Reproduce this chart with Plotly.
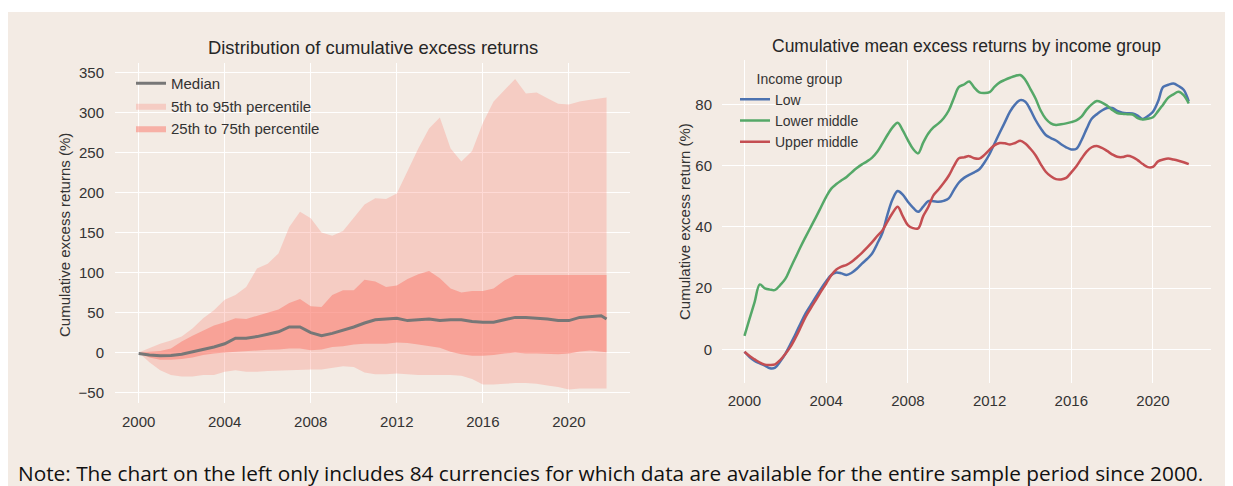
import numpy as np
import plotly.graph_objects as go

# The page adds an 8px body margin, so the figure is sized/positioned to land on the 1233x486 frame.
OFF = 8
WF, HF = 1233 - OFF, 486 - OFF


def px(x):
    return (x - OFF) / WF


def py(y):
    return 1 - (y - OFF) / HF


# ---------------- Left chart data (half-year steps) ----------------
years_left = [2000.0, 2000.5, 2001.0, 2001.5, 2002.0, 2002.5, 2003.0, 2003.5, 2004.0, 2004.5,
              2005.0, 2005.5, 2006.0, 2006.5, 2007.0, 2007.5, 2008.0, 2008.5, 2009.0, 2009.5,
              2010.0, 2010.5, 2011.0, 2011.5, 2012.0, 2012.5, 2013.0, 2013.5, 2014.0, 2014.5,
              2015.0, 2015.5, 2016.0, 2016.5, 2017.0, 2017.5, 2018.0, 2018.5, 2019.0, 2019.5,
              2020.0, 2020.5, 2021.0, 2021.5, 2021.75]
p95 = [0, 6, 11, 15, 20, 30, 43, 53, 66, 72,
       82, 105, 111, 124, 157, 176, 168, 150, 146, 152,
       168, 185, 193, 192, 199, 228, 255, 280, 294, 255,
       239, 252, 287, 314, 328, 342, 324, 325, 318, 311,
       310, 314, 316, 318, 319]
p5 = [0, -12, -22, -28, -30, -30, -28, -28, -24, -22,
      -24, -24, -23, -22.5, -22, -21, -21, -21, -19, -17,
      -18, -25, -27, -27, -26, -27, -28, -28, -28, -28,
      -29, -33, -40, -40, -39, -38, -38, -39, -41, -43,
      -46, -45, -45, -45, -45]
p75 = [0, 1, 2, 5, 14, 21, 28, 34, 38, 43,
       42, 46, 50, 54, 62, 67, 58, 57, 72, 78,
       78, 91, 89, 82, 84, 92, 98, 102, 93, 80,
       75, 77, 77, 80, 90, 97, 97, 97, 97, 97,
       97, 97, 97, 97, 97]
p25 = [0, -6, -9, -9, -8, -6, -3, -1, 0, 1,
       2, 3, 3.5, 4, 5, 5, 3, 4, 7, 8,
       10, 11, 11, 11, 12.5, 12, 10, 8, 6, 1,
       -2, -4, -4, -3, -1, 0, -1, -1, -1.5, -2,
       -1, 1.5, 2.5, 1, 0.4]
median = [-1, -3, -4, -3.5, -2, 1, 4, 7, 11, 18,
          18, 20, 23, 26, 32, 32, 25, 21, 24, 28,
          32, 37, 41, 42, 43, 40, 41, 42, 40, 41,
          41, 39, 38, 38, 41, 44, 44, 43, 42, 40,
          40, 44, 45, 46, 42]

# ---------------- Right chart data (quarterly) ----------------
years_right = list(np.arange(2000.0, 2021.76, 0.25))
low = [-0.8, -2.5, -3.8, -4.6, -5.3, -6.2, -6, -4, -1.5, 1.7, 5, 8.5, 11.8, 14.5, 17.2, 19.8,
       22.2, 24.3, 25.1, 24.8, 24.3, 25, 26.3, 28, 29.5, 31.3, 34.5, 38, 44, 49, 51.7, 50.5,
       48.2, 46.3, 44.9, 46.6, 48.4, 48.4, 48.2, 48.5, 49.3, 52, 54.5, 56, 57, 57.8, 58.8, 61,
       63.8, 67.3, 70.8, 74.2, 77.6, 80, 81.4, 80.9, 78.2, 74.9, 72.2, 70, 69, 68.2, 67, 66,
       65.3, 65.5, 68.3, 72, 75.3, 76.8, 78, 78.8, 78.8, 77.9, 77.3, 77.1, 77, 76.3, 75.2, 76.2,
       77.6, 81, 85.7, 86.4, 86.8, 86, 84.8, 81]
lower_middle = [4.4, 10, 15.5, 21.2, 19.9, 19.5, 19.4, 21, 23, 26.5, 30, 33.5, 36.8, 40, 43.2, 46.5,
                49.8, 52.5, 54, 55.2, 56.3, 57.8, 59.2, 60.4, 61.4, 62.6, 64.5, 67.2, 70, 72.5, 74, 71.5,
                68.3, 65.5, 64, 67.5, 70.5, 72.5, 73.8, 75.5, 78, 82, 85.7, 86.5, 87.5, 85.5, 83.9, 83.7,
                84, 85.8, 87.2, 88, 88.7, 89.3, 89.6, 88, 85, 81.9, 78, 75.3, 73.8, 73.3, 73.5, 73.8,
                74.2, 74.8, 76, 78.3, 80, 81.1, 80.6, 79.6, 78.2, 77.2, 76.9, 76.8, 76.7, 75.5, 75.1, 75.3,
                75.8, 77.8, 80, 82.2, 83.3, 84.1, 83, 80.3]
upper_middle = [-0.8, -2.2, -3.3, -4.3, -5, -5.1, -4.9, -3.5, -1.5, 0.8, 3.8, 7.2, 10.7, 13.5, 16.2, 18.9,
                21.5, 24.2, 26.1, 27, 27.6, 28.6, 30, 31.5, 33.2, 35, 37, 38.8, 41.7, 44.5, 46.6, 43.5,
                40.6, 39.6, 39.5, 43.5, 46.5, 50.3, 52.2, 54.3, 56.7, 59.8, 62.4, 62.7, 63.1, 62.4, 62.3, 63.5,
                65.2, 66.7, 67.4, 67.3, 66.9, 67.4, 68.1, 67.2, 65.5, 63.4, 60.5, 58, 56.5, 55.6, 55.5, 56,
                57.8, 59.8, 62.3, 64.6, 66, 66.4, 65.8, 64.8, 63.7, 62.9, 62.8, 63.2, 62.8, 61.8, 60.5, 59.5,
                59.6, 61.4, 62, 62.3, 62, 61.6, 61.1, 60.5]

x_ticks = [2000, 2004, 2008, 2012, 2016, 2020]
left_y_ticks = [-50, 0, 50, 100, 150, 200, 250, 300, 350]
right_y_ticks = [0, 20, 40, 60, 80]

BEIGE = "#f3ebe4"
TXT = "#333333"
FONT = "Liberation Sans, Arial, sans-serif"

fig = go.Figure()

# Left: outer band
fig.add_trace(go.Scatter(x=years_left, y=p5, mode="lines", line=dict(width=0, color="rgba(0,0,0,0)"),
                         showlegend=False, hoverinfo="skip", xaxis="x", yaxis="y"))
fig.add_trace(go.Scatter(x=years_left, y=p95, mode="lines", line=dict(width=0, color="rgba(250,128,114,0.29)"),
                         fill="tonexty", fillcolor="rgba(250,128,114,0.29)", name="5th to 95th percentile",
                         legend="legend", legendrank=2, xaxis="x", yaxis="y"))
# Left: inner band
fig.add_trace(go.Scatter(x=years_left, y=p25, mode="lines", line=dict(width=0, color="rgba(0,0,0,0)"),
                         showlegend=False, hoverinfo="skip", xaxis="x", yaxis="y"))
fig.add_trace(go.Scatter(x=years_left, y=p75, mode="lines", line=dict(width=0, color="rgba(250,128,114,0.55)"),
                         fill="tonexty", fillcolor="rgba(250,128,114,0.55)", name="25th to 75th percentile",
                         legend="legend", legendrank=3, xaxis="x", yaxis="y"))
fig.add_trace(go.Scatter(x=years_left, y=median, mode="lines", line=dict(width=3, color="#777777"),
                         name="Median", legend="legend", legendrank=1, xaxis="x", yaxis="y"))

# Right: lines
for name, vals, col in [("Low", low, "#4c72b0"), ("Lower middle", lower_middle, "#55a868"),
                        ("Upper middle", upper_middle, "#c44e52")]:
    fig.add_trace(go.Scatter(x=years_right, y=vals, mode="lines", line=dict(width=2.5, color=col, shape="spline"),
                             name=name, legend="legend2", xaxis="x2", yaxis="y2"))

axis_common = dict(showgrid=True, gridcolor="#ffffff", gridwidth=1.4, zeroline=False, showline=False,
                   ticks="outside", tickcolor="rgba(0,0,0,0)",
                   tickfont=dict(family=FONT, size=15, color=TXT))

fig.update_layout(
    width=WF, height=HF,
    margin=dict(l=0, r=0, t=0, b=0, autoexpand=False),
    paper_bgcolor="#ffffff", plot_bgcolor=BEIGE,
    font=dict(family=FONT, color=TXT),
    xaxis=dict(domain=[px(115), px(630)], range=[1998.9, 2022.84], tickvals=x_ticks, anchor="y",
               ticklen=5, **axis_common),
    yaxis=dict(domain=[py(403), py(63)], range=[-63, 362], tickvals=left_y_ticks, anchor="x",
               ticklen=7, **axis_common),
    xaxis2=dict(domain=[px(722), px(1211)], range=[1998.9, 2022.84], tickvals=x_ticks, anchor="y2",
                ticklen=4, **axis_common),
    yaxis2=dict(domain=[py(383), py(60)], range=[-11, 94.5], tickvals=right_y_ticks, anchor="x2",
                ticklen=6, **axis_common),
    legend=dict(x=px(131), y=py(67), xanchor="left", yanchor="top", bgcolor="rgba(0,0,0,0)",
                font=dict(family=FONT, size=15, color=TXT), traceorder="normal"),
    legend2=dict(x=px(735), y=py(65.5), xanchor="left", yanchor="top", bgcolor="rgba(0,0,0,0)",
                 font=dict(family=FONT, size=14, color=TXT),
                 title=dict(text="Income group", side="top center",
                            font=dict(family=FONT, size=14, color=TXT))),
    shapes=[dict(type="rect", xref="paper", yref="paper", x0=0, x1=1, y0=0, y1=py(12),
                 fillcolor=BEIGE, line=dict(width=0), layer="below")],
    annotations=[
        dict(text="Distribution of cumulative excess returns", x=px(372.5), y=py(47), xref="paper",
             yref="paper", showarrow=False, xanchor="center", yanchor="middle",
             font=dict(family=FONT, size=18.4, color="#262626")),
        dict(text="Cumulative mean excess returns by income group", x=px(967), y=py(46), xref="paper",
             yref="paper", showarrow=False, xanchor="center", yanchor="middle",
             font=dict(family=FONT, size=17.5, color="#262626")),
        dict(text="Cumulative excess returns (%)", x=px(64), y=py(235), xref="paper", yref="paper",
             showarrow=False, textangle=-90, xanchor="center", yanchor="middle",
             font=dict(family=FONT, size=15, color=TXT)),
        dict(text="Cumulative excess return (%)", x=px(684), y=py(222), xref="paper", yref="paper",
             showarrow=False, textangle=-90, xanchor="center", yanchor="middle",
             font=dict(family=FONT, size=15, color=TXT)),
        dict(text="Note: The chart on the left only includes 84 currencies for which data are available for the entire sample period since 2000.",
             x=px(16), y=py(473), xref="paper", yref="paper", showarrow=False, xanchor="left",
             yanchor="middle", font=dict(family="Open Sans, sans-serif", size=20.8, color="#111111")),
    ],
)

fig.write_html("out.html")
